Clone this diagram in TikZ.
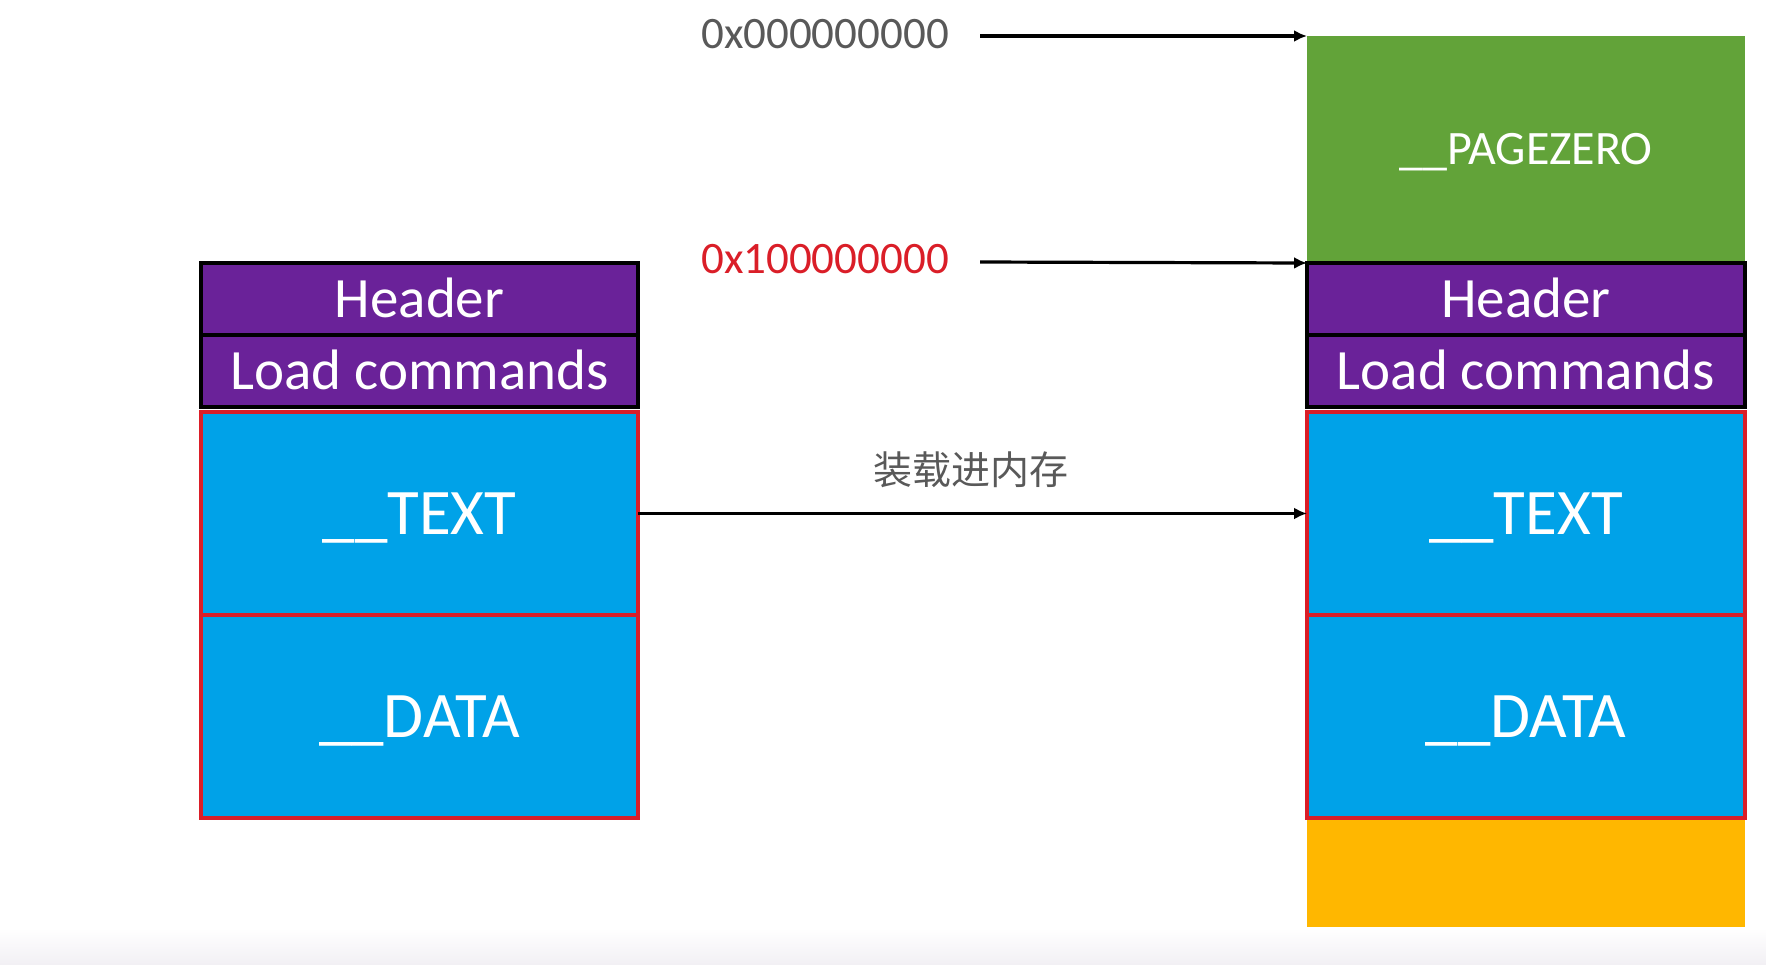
\documentclass[tikz,border=0pt]{standalone}
\usepackage{fontspec}
\setmainfont{Carlito}
\newfontfamily\cjk{Noto Sans CJK SC}
\usetikzlibrary{arrows.meta}
\definecolor{cpurple}{RGB}{106,34,153}
\definecolor{cblue}{RGB}{0,162,232}
\definecolor{cgreen}{RGB}{98,163,57}
\definecolor{corange}{RGB}{255,183,0}
\definecolor{cred}{RGB}{218,30,40}
\definecolor{cgray}{RGB}{89,89,89}
\definecolor{cband}{RGB}{242,240,244}
\tikzset{
  cell/.style={inner sep=0pt, outer sep=0pt, minimum width=437pt, text=white, align=center},
  purplecell/.style={cell, fill=cpurple, draw=black, line width=4.5pt,
    minimum height=72pt, font=\fontsize{57}{60}\selectfont, text height=36pt, text depth=0pt},
  bluecell/.style={cell, fill=cblue, draw=cred, line width=4pt,
    font=\fontsize{65}{68}\selectfont, text height=41pt, text depth=0pt},
  addr/.style={inner sep=0pt, font=\fontsize{45}{48}\selectfont, text height=28pt, text depth=0pt},
  conn/.style={line width=3.2pt, -{Latex[length=13pt,width=12pt]}},
}
\begin{document}
\begin{tikzpicture}[x=1pt,y=-1pt]
\useasboundingbox (0,0) rectangle (1766,964);
\shade[top color=white, bottom color=cband] (0,928) rectangle (1766,964);

% left stack
\node[purplecell] (lh) at (419.5,299) {Header};
\node[purplecell] (llc) at (419.5,371) {Load commands};
\node[bluecell, minimum height=203pt] (ltext) at (419.5,513.5) {\_\_TEXT};
\node[bluecell, minimum height=203pt] (ldata) at (419.5,716.5) {\_\_DATA};

% right stack
\node[cell, fill=cgreen, minimum width=438pt, minimum height=227pt,
  font=\fontsize{48}{50}\selectfont, text height=30pt, text depth=0pt] (pz) at (1526,149.5) {\_\_PAGEZERO};
\node[purplecell, minimum width=438pt] (rh) at (1526,299) {Header};
\node[purplecell, minimum width=438pt] (rlc) at (1526,371) {Load commands};
\node[bluecell, minimum width=438pt, minimum height=203pt] (rtext) at (1526,513.5) {\_\_TEXT};
\node[bluecell, minimum width=438pt, minimum height=203pt] (rdata) at (1526,716.5) {\_\_DATA};
\node[cell, fill=corange, minimum width=438pt, minimum height=107pt] (rfree) at (1526,873.5) {};

% addresses
\node[addr, text=cgray] (a0) at (825,34) {0x000000000};
\node[addr, text=cred] (a1) at (825,259.5) {0x100000000};
\coordinate (s0) at (980,36);
\coordinate (s1) at (980,262);
\draw[conn] (s0) -- (pz.north west);
\draw[conn] (s1) -- (rh.north west);

% load arrow
\draw[conn] (ltext.east) -- (rtext.west);
\node[inner sep=0pt, text=cgray, font=\cjk\fontsize{39}{42}\selectfont] (lbl) at (971,470) {装载进内存};
\end{tikzpicture}
\end{document}
